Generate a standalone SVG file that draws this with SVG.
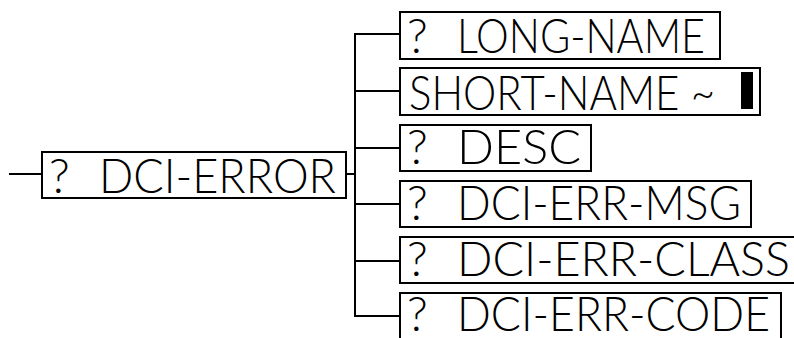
<svg xmlns="http://www.w3.org/2000/svg" width="794" height="338" viewBox="0 0 794 338">
<style>
  .box{fill:#fff;stroke:#000;stroke-width:2}
  .lbl{font-family:"Lato","Liberation Sans",Arial,sans-serif;font-weight:300;font-size:48px;fill:#000}
  .ln{stroke:#000;stroke-width:2;fill:none}
</style>
<rect width="794" height="338" fill="#fff"/>
<g id="connectors">
  <line class="ln" x1="9" y1="174" x2="42" y2="174"/>
  <line class="ln" x1="346" y1="174" x2="355" y2="174"/>
  <line class="ln" x1="355" y1="33" x2="355" y2="317"/>
  <line class="ln" x1="354" y1="34" x2="400" y2="34"/>
  <line class="ln" x1="354" y1="91" x2="400" y2="91"/>
  <line class="ln" x1="354" y1="148" x2="400" y2="148"/>
  <line class="ln" x1="354" y1="204" x2="400" y2="204"/>
  <line class="ln" x1="354" y1="261" x2="400" y2="261"/>
  <line class="ln" x1="354" y1="316" x2="400" y2="316"/>
</g>
<g id="dci-error">
  <rect class="box" x="42" y="152" width="304" height="46"/>
  <text class="lbl" y="193"><tspan x="49">?</tspan><tspan x="99" textLength="237" lengthAdjust="spacingAndGlyphs">DCI-ERROR</tspan></text>
</g>
<g id="long-name">
  <rect class="box" x="400" y="12" width="320" height="47"/>
  <text class="lbl" y="53"><tspan x="407">?</tspan><tspan x="457" textLength="248" lengthAdjust="spacingAndGlyphs">LONG-NAME</tspan></text>
</g>
<g id="short-name">
  <rect class="box" x="400" y="68" width="360" height="47"/>
  <text class="lbl" x="409" y="110" textLength="306" lengthAdjust="spacingAndGlyphs">SHORT-NAME ~</text>
  <rect x="741" y="72" width="12" height="37" fill="#000"/>
</g>
<g id="desc">
  <rect class="box" x="400" y="125" width="191" height="46"/>
  <text class="lbl" y="164"><tspan x="407">?</tspan><tspan x="457" textLength="124" lengthAdjust="spacingAndGlyphs">DESC</tspan></text>
</g>
<g id="dci-err-msg">
  <rect class="box" x="400" y="181" width="351" height="46"/>
  <text class="lbl" y="220"><tspan x="407">?</tspan><tspan x="457" textLength="284" lengthAdjust="spacingAndGlyphs">DCI-ERR-MSG</tspan></text>
</g>
<g id="dci-err-class">
  <rect class="box" x="400" y="237" width="420" height="46"/>
  <text class="lbl" y="276"><tspan x="407">?</tspan><tspan x="457" textLength="333" lengthAdjust="spacingAndGlyphs">DCI-ERR-CLASS</tspan></text>
</g>
<g id="dci-err-code">
  <rect class="box" x="400" y="293" width="381" height="60"/>
  <text class="lbl" y="331"><tspan x="407">?</tspan><tspan x="457" textLength="313" lengthAdjust="spacingAndGlyphs">DCI-ERR-CODE</tspan></text>
</g>
</svg>
